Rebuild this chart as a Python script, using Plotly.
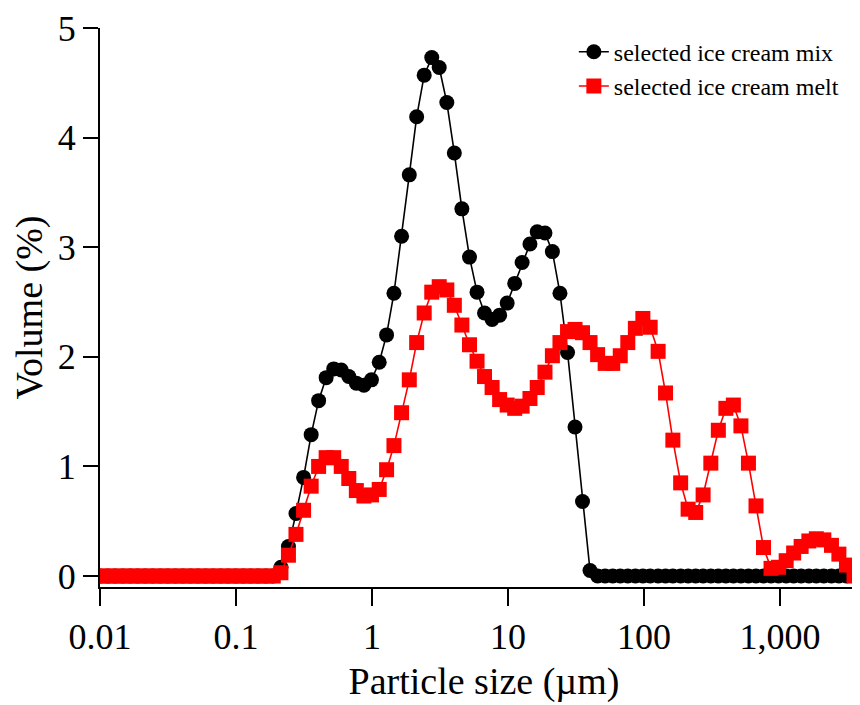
import plotly.graph_objects as go

# Particle size classes (µm)
size_um = [
    0.0100, 0.0114, 0.0129, 0.0147, 0.0167, 0.0189, 0.0215, 0.0244, 0.0278, 0.0315,
    0.0358, 0.0407, 0.0463, 0.0526, 0.0597, 0.0679, 0.0771, 0.0876, 0.0995, 0.113,
    0.128, 0.146, 0.166, 0.188, 0.214, 0.243, 0.276, 0.314, 0.357, 0.405,
    0.460, 0.523, 0.594, 0.675, 0.767, 0.872, 0.991, 1.13, 1.28, 1.45,
    1.65, 1.88, 2.13, 2.42, 2.75, 3.12, 3.55, 4.03, 4.58, 5.21,
    5.92, 6.72, 7.64, 8.68, 9.86, 11.2, 12.7, 14.5, 16.4, 18.7,
    21.2, 24.1, 27.4, 31.1, 35.3, 40.1, 45.6, 51.8, 58.9, 66.9,
    76.0, 86.4, 98.1, 111, 127, 144, 163, 186, 211, 240,
    272, 310, 352, 400, 454, 516, 586, 666, 756, 859,
    976, 1110, 1260, 1430, 1630, 1850, 2100, 2390, 2710, 3080,
    3500,
]

mix_volume = [
    0, 0, 0, 0, 0, 0, 0, 0, 0, 0,
    0, 0, 0, 0, 0, 0, 0, 0, 0, 0,
    0, 0, 0, 0, 0.08, 0.27, 0.57, 0.90, 1.29, 1.60,
    1.81, 1.89, 1.88, 1.82, 1.76, 1.74, 1.79, 1.95, 2.20, 2.58,
    3.10, 3.66, 4.19, 4.57, 4.73, 4.64, 4.32, 3.86, 3.35, 2.91,
    2.59, 2.40, 2.34, 2.38, 2.49, 2.67, 2.86, 3.03, 3.14, 3.13,
    2.96, 2.58, 2.04, 1.36, 0.68, 0.05, 0, 0, 0, 0,
    0, 0, 0, 0, 0, 0, 0, 0, 0, 0,
    0, 0, 0, 0, 0, 0, 0, 0, 0, 0,
    0, 0, 0, 0, 0, 0, 0, 0, 0, 0,
    0,
]

melt_volume = [
    0, 0, 0, 0, 0, 0, 0, 0, 0, 0,
    0, 0, 0, 0, 0, 0, 0, 0, 0, 0,
    0, 0, 0, 0.00, 0.03, 0.19, 0.38, 0.60, 0.82, 1.00,
    1.08, 1.08, 1.00, 0.89, 0.78, 0.73, 0.74, 0.79, 0.97, 1.19,
    1.49, 1.79, 2.13, 2.40, 2.59, 2.64, 2.61, 2.47, 2.29, 2.11,
    1.96, 1.82, 1.72, 1.61, 1.56, 1.53, 1.55, 1.62, 1.72, 1.86,
    2.01, 2.13, 2.23, 2.25, 2.22, 2.13, 2.02, 1.94, 1.94, 2.01,
    2.13, 2.26, 2.35, 2.27, 2.05, 1.67, 1.24, 0.85, 0.61, 0.58,
    0.74, 1.03, 1.33, 1.53, 1.56, 1.37, 1.03, 0.64, 0.26, 0.07,
    0.08, 0.14, 0.21, 0.27, 0.32, 0.34, 0.33, 0.28, 0.20, 0.10,
    0.00,
]

x_tickvals = [0.01, 0.1, 1, 10, 100, 1000]
x_ticktext = ["0.01", "0.1", "1", "10", "100", "1,000"]
y_tickvals = [0, 1, 2, 3, 4, 5]

FONT = "Liberation Serif, Times New Roman, serif"

fig = go.Figure()
fig.add_trace(go.Scatter(
    x=size_um, y=mix_volume, mode="lines+markers",
    name="selected ice cream mix",
    line=dict(color="black", width=1.6),
    marker=dict(symbol="circle", size=15, color="black"),
))
fig.add_trace(go.Scatter(
    x=size_um, y=melt_volume, mode="lines+markers",
    name="selected ice cream melt",
    line=dict(color="#ff0000", width=1.6),
    marker=dict(symbol="square", size=15, color="#ff0000"),
))

fig.update_layout(
    width=860, height=705,
    margin=dict(l=92, r=0, t=20, b=126),
    paper_bgcolor="white", plot_bgcolor="white",
    font=dict(family=FONT, color="black"),
    showlegend=True,
    legend=dict(
        x=0.617, y=0.997, xanchor="left", yanchor="top",
        font=dict(family=FONT, size=24, color="black"),
        bgcolor="rgba(0,0,0,0)", borderwidth=0,
        itemwidth=30, tracegroupgap=0,
    ),
)
fig.update_xaxes(
    type="log", range=[-2, 3.647],
    showline=True, linecolor="black", linewidth=2, mirror=False,
    ticks="outside", ticklen=17, tickwidth=2, tickcolor="black",
    tickvals=x_tickvals, ticktext=x_ticktext,
    tickfont=dict(family=FONT, size=36),
    showgrid=False, zeroline=False,
    title=dict(text="Particle size (µm)", font=dict(family=FONT, size=38), standoff=11),
    automargin=False,
)
fig.update_yaxes(
    range=[-0.1, 5],
    showline=True, linecolor="black", linewidth=2, mirror=False,
    ticks="outside", ticklen=15, tickwidth=2, tickcolor="black",
    tickvals=y_tickvals,
    tickfont=dict(family=FONT, size=36),
    showgrid=False, zeroline=False,
    title=dict(text="Volume (%)", font=dict(family=FONT, size=38), standoff=14),
    automargin=False,
)

fig.write_html("out.html")
